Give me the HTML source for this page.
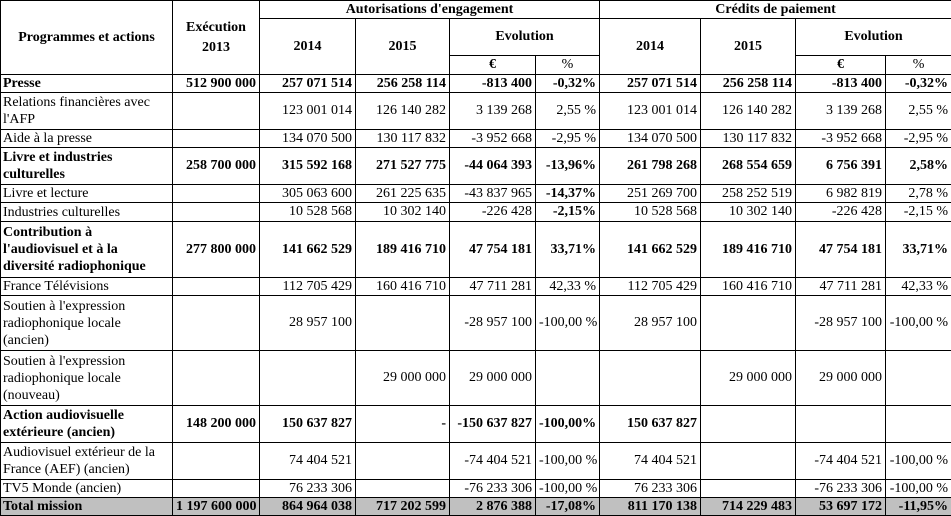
<!DOCTYPE html>
<html><head><meta charset="utf-8">
<style>
html,body{margin:0;padding:0;background:#fff;width:951px;height:516px;overflow:hidden}
table{border-collapse:collapse;table-layout:fixed;font-family:"Liberation Serif",serif;font-size:14px;color:#000;position:absolute;left:0;top:0;width:951px}
td,th{border:1px solid #000;padding:0 3px;line-height:16px;overflow:hidden;white-space:nowrap}
th{font-weight:bold;text-align:center;vertical-align:middle}
td{text-align:right;vertical-align:middle}
td.l{text-align:left;padding-left:2px;line-height:17px}
tr.b td{font-weight:bold}
.bb{font-weight:bold}
tr.tot td{background:#c0c0c0;font-weight:bold}
</style></head><body>
<table>
<colgroup><col style="width:172px"><col style="width:87px"><col style="width:96px"><col style="width:94px"><col style="width:86px"><col style="width:64px"><col style="width:101px"><col style="width:95px"><col style="width:90px"><col style="width:66px"></colgroup>
<tr style="height:18px">
<th rowspan="3">Programmes et actions</th>
<th rowspan="3" style="line-height:20px">Exécution<br>2013</th>
<th colspan="4">Autorisations d'engagement</th>
<th colspan="4">Crédits de paiement</th></tr>
<tr style="height:37px">
<th rowspan="2">2014</th><th rowspan="2">2015</th><th colspan="2">Evolution</th>
<th rowspan="2">2014</th><th rowspan="2">2015</th><th colspan="2">Evolution</th></tr>
<tr style="height:19px">
<th>€</th><th style="font-weight:normal">%</th><th>€</th><th style="font-weight:normal">%</th></tr>
<tr class="b" style="height:18px"><td class="l">Presse</td><td>512 900 000</td><td>257 071 514</td><td>256 258 114</td><td>-813 400</td><td>-0,32%</td><td>257 071 514</td><td>256 258 114</td><td>-813 400</td><td>-0,32%</td></tr>
<tr style="height:37px"><td class="l">Relations financières avec<br>l'AFP</td><td></td><td>123 001 014</td><td>126 140 282</td><td>3 139 268</td><td>2,55 %</td><td>123 001 014</td><td>126 140 282</td><td>3 139 268</td><td>2,55 %</td></tr>
<tr style="height:18px"><td class="l">Aide à la presse</td><td></td><td>134 070 500</td><td>130 117 832</td><td>-3 952 668</td><td>-2,95 %</td><td>134 070 500</td><td>130 117 832</td><td>-3 952 668</td><td>-2,95 %</td></tr>
<tr class="b" style="height:37px"><td class="l">Livre et industries<br>culturelles</td><td>258 700 000</td><td>315 592 168</td><td>271 527 775</td><td>-44 064 393</td><td>-13,96%</td><td>261 798 268</td><td>268 554 659</td><td>6 756 391</td><td>2,58%</td></tr>
<tr style="height:18px"><td class="l">Livre et lecture</td><td></td><td>305 063 600</td><td>261 225 635</td><td>-43 837 965</td><td class="bb">-14,37%</td><td>251 269 700</td><td>258 252 519</td><td>6 982 819</td><td>2,78 %</td></tr>
<tr style="height:19px"><td class="l">Industries culturelles</td><td></td><td>10 528 568</td><td>10 302 140</td><td>-226 428</td><td class="bb">-2,15%</td><td>10 528 568</td><td>10 302 140</td><td>-226 428</td><td>-2,15 %</td></tr>
<tr class="b" style="height:56px"><td class="l">Contribution à<br>l'audiovisuel et à la<br>diversité radiophonique</td><td>277 800 000</td><td>141 662 529</td><td>189 416 710</td><td>47 754 181</td><td>33,71%</td><td>141 662 529</td><td>189 416 710</td><td>47 754 181</td><td>33,71%</td></tr>
<tr style="height:18px"><td class="l">France Télévisions</td><td></td><td>112 705 429</td><td>160 416 710</td><td>47 711 281</td><td>42,33 %</td><td>112 705 429</td><td>160 416 710</td><td>47 711 281</td><td>42,33 %</td></tr>
<tr style="height:55px"><td class="l">Soutien à l'expression<br>radiophonique locale<br>(ancien)</td><td></td><td>28 957 100</td><td></td><td>-28 957 100</td><td>-100,00 %</td><td>28 957 100</td><td></td><td>-28 957 100</td><td>-100,00 %</td></tr>
<tr style="height:55px"><td class="l">Soutien à l'expression<br>radiophonique locale<br>(nouveau)</td><td></td><td></td><td>29 000 000</td><td>29 000 000</td><td></td><td></td><td>29 000 000</td><td>29 000 000</td><td></td></tr>
<tr class="b" style="height:37px"><td class="l">Action audiovisuelle<br>extérieure (ancien)</td><td>148 200 000</td><td>150 637 827</td><td>-</td><td>-150 637 827</td><td>-100,00%</td><td>150 637 827</td><td></td><td></td><td></td></tr>
<tr style="height:37px"><td class="l">Audiovisuel extérieur de la<br>France (AEF) (ancien)</td><td></td><td>74 404 521</td><td></td><td>-74 404 521</td><td>-100,00 %</td><td>74 404 521</td><td></td><td>-74 404 521</td><td>-100,00 %</td></tr>
<tr style="height:18px"><td class="l">TV5 Monde (ancien)</td><td></td><td>76 233 306</td><td></td><td>-76 233 306</td><td>-100,00 %</td><td>76 233 306</td><td></td><td>-76 233 306</td><td>-100,00 %</td></tr>
<tr class="tot" style="height:18px"><td class="l">Total mission</td><td>1 197 600 000</td><td>864 964 038</td><td>717 202 599</td><td>2 876 388</td><td>-17,08%</td><td>811 170 138</td><td>714 229 483</td><td>53 697 172</td><td>-11,95%</td></tr>
</table>
</body></html>
